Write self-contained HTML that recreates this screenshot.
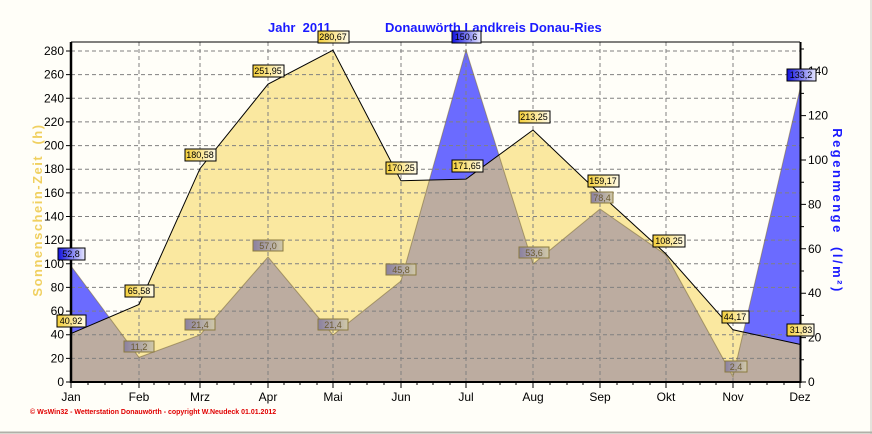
<!DOCTYPE html>
<html><head><meta charset="utf-8"><style>
html,body{margin:0;padding:0;background:#fffef8;}
svg{display:block;font-family:"Liberation Sans",sans-serif;}
</style></head><body>
<svg width="872" height="434" viewBox="0 0 872 434" xmlns="http://www.w3.org/2000/svg">
<defs>
<linearGradient id="gy" x1="0" x2="1"><stop offset="0" stop-color="#f4cf3a"/><stop offset="1" stop-color="#fffbe8"/></linearGradient>
<linearGradient id="gb" x1="0" x2="1"><stop offset="0" stop-color="#1010e0"/><stop offset="1" stop-color="#e8e8ff"/></linearGradient>
<linearGradient id="gg" x1="0" x2="1"><stop offset="0" stop-color="#8a80a0"/><stop offset="1" stop-color="#d0c8a8"/></linearGradient>
<clipPath id="sunclip"><polygon points="71,382 71,333.6 139,304.5 200,168.6 268,84.2 333,50.2 401,180.8 466,179.1 533,130 600,193.9 666,254 733,329.8 800,344.4 800,382"/></clipPath>
</defs>
<rect width="872" height="434" fill="#fffef8"/>
<line x1="871" y1="0" x2="871" y2="434" stroke="#c8c8c0"/>
<line x1="0" y1="432.5" x2="872" y2="432.5" stroke="#b0b0a8" stroke-width="2"/>
<polygon points="71,382 71,266 139,357.4 200,335 268,257 333,335 401,281 466,50 533,264 600,209 666,255 733,376.7 800,89 800,382" fill="#6b6bff"/>
<polygon points="71,382 71,333.6 139,304.5 200,168.6 268,84.2 333,50.2 401,180.8 466,179.1 533,130 600,193.9 666,254 733,329.8 800,344.4 800,382" fill="#fae8a0"/>
<polygon clip-path="url(#sunclip)" points="71,382 71,266 139,357.4 200,335 268,257 333,335 401,281 466,50 533,264 600,209 666,255 733,376.7 800,89 800,382" fill="#bcaca0"/>
<g stroke="#808080" stroke-dasharray="4,3" stroke-width="1">
<line x1="71" y1="358.4" x2="800" y2="358.4"/><line x1="71" y1="334.7" x2="800" y2="334.7"/><line x1="71" y1="311.1" x2="800" y2="311.1"/><line x1="71" y1="287.4" x2="800" y2="287.4"/><line x1="71" y1="263.8" x2="800" y2="263.8"/><line x1="71" y1="240.1" x2="800" y2="240.1"/><line x1="71" y1="216.5" x2="800" y2="216.5"/><line x1="71" y1="192.9" x2="800" y2="192.9"/><line x1="71" y1="169.2" x2="800" y2="169.2"/><line x1="71" y1="145.6" x2="800" y2="145.6"/><line x1="71" y1="121.9" x2="800" y2="121.9"/><line x1="71" y1="98.3" x2="800" y2="98.3"/><line x1="71" y1="74.6" x2="800" y2="74.6"/><line x1="71" y1="51" x2="800" y2="51"/>
<line x1="139" y1="42" x2="139" y2="382"/><line x1="200" y1="42" x2="200" y2="382"/><line x1="268" y1="42" x2="268" y2="382"/><line x1="333" y1="42" x2="333" y2="382"/><line x1="401" y1="42" x2="401" y2="382"/><line x1="466" y1="42" x2="466" y2="382"/><line x1="533" y1="42" x2="533" y2="382"/><line x1="600" y1="42" x2="600" y2="382"/><line x1="666" y1="42" x2="666" y2="382"/><line x1="733" y1="42" x2="733" y2="382"/>
</g>
<polyline points="71,266 139,357.4 200,335 268,257 333,335 401,281 466,50 533,264 600,209 666,255 733,376.7 800,89" fill="none" stroke="#807040" stroke-width="1" opacity="0.6"/>
<polyline points="71,333.6 139,304.5 200,168.6 268,84.2 333,50.2 401,180.8 466,179.1 533,130 600,193.9 666,254 733,329.8 800,344.4" fill="none" stroke="#000" stroke-width="1"/>
<line x1="71" y1="42" x2="800" y2="42" stroke="#000"/>
<line x1="71" y1="382" x2="800" y2="382" stroke="#000" stroke-width="2"/>
<line x1="71" y1="42" x2="71" y2="383" stroke="#000" stroke-width="2.5"/>
<line x1="800.5" y1="42" x2="800.5" y2="383" stroke="#000" stroke-width="2"/>
<g stroke="#000"><path d="M66 382H71M66 358.4H71M66 334.7H71M66 311.1H71M66 287.4H71M66 263.8H71M66 240.1H71M66 216.5H71M66 192.9H71M66 169.2H71M66 145.6H71M66 121.9H71M66 98.3H71M66 74.6H71M66 51H71"/>
<path d="M801 382H806M801 337.6H806M801 293.2H806M801 248.8H806M801 204.4H806M801 160H806M801 115.6H806M801 71.2H806"/>
<path d="M801 359.8H804M801 315.4H804M801 271H804M801 226.6H804M801 182.2H804M801 137.8H804M801 93.4H804M801 49H804"/>
<path d="M71 382V388M139 382V388M200 382V388M268 382V388M333 382V388M401 382V388M466 382V388M533 382V388M600 382V388M666 382V388M733 382V388M800 382V388"/>
<path d="M88 382V385M105 382V385M122 382V385M154 382V385M169 382V385M185 382V385M217 382V385M234 382V385M251 382V385M284 382V385M300 382V385M317 382V385M350 382V385M367 382V385M384 382V385M417 382V385M433 382V385M450 382V385M483 382V385M500 382V385M516 382V385M550 382V385M567 382V385M583 382V385M617 382V385M633 382V385M650 382V385M683 382V385M700 382V385M716 382V385M750 382V385M767 382V385M784 382V385"/></g>
<g font-size="12" fill="#000" text-anchor="end">
<text x="64" y="386">0</text><text x="64" y="362.4">20</text><text x="64" y="338.7">40</text><text x="64" y="315.1">60</text><text x="64" y="291.4">80</text><text x="64" y="267.8">100</text><text x="64" y="244.1">120</text><text x="64" y="220.5">140</text><text x="64" y="196.9">160</text><text x="64" y="173.2">180</text><text x="64" y="149.6">200</text><text x="64" y="125.9">220</text><text x="64" y="102.3">240</text><text x="64" y="78.6">260</text><text x="64" y="55">280</text>
</g>
<g font-size="12" fill="#000">
<text x="808" y="386">0</text><text x="808" y="341.6">20</text><text x="808" y="297.2">40</text><text x="808" y="252.8">60</text><text x="808" y="208.4">80</text><text x="808" y="164">100</text><text x="808" y="119.6">120</text><text x="808" y="75.2">140</text>
</g>
<g font-size="12" fill="#000" text-anchor="middle">
<text x="71" y="401">Jan</text><text x="139" y="401">Feb</text><text x="200" y="401">Mrz</text><text x="268" y="401">Apr</text><text x="333" y="401">Mai</text><text x="401" y="401">Jun</text><text x="466" y="401">Jul</text><text x="533" y="401">Aug</text><text x="600" y="401">Sep</text><text x="666" y="401">Okt</text><text x="733" y="401">Nov</text><text x="800" y="401">Dez</text>
</g>
<text x="268" y="32" font-size="13" font-weight="bold" fill="#1a1aff">Jahr&#160; 2011</text>
<text x="385" y="32" font-size="13" font-weight="bold" fill="#1a1aff">Donauwörth Landkreis Donau-Ries</text>
<text transform="translate(42,210) rotate(-90)" text-anchor="middle" font-size="13" font-weight="bold" fill="#f0d060" letter-spacing="1.5">Sonnenschein-Zeit&#160; (h)</text>
<text transform="translate(833,211) rotate(90)" text-anchor="middle" font-size="13" font-weight="bold" fill="#1a1aff" letter-spacing="2.5">Regenmenge&#160; (l/m²)</text>
<text x="30" y="414" font-size="7" font-weight="bold" fill="#e00000">© WsWin32  -  Wetterstation Donauwörth  -  copyright W.Neudeck  01.01.2012</text>
<g font-size="9" text-anchor="middle">
<g fill="#7a6a30" stroke="#8a7a40">
<rect x="124" y="341" width="30" height="11" fill="url(#gg)"/><rect x="185" y="319" width="30" height="11" fill="url(#gg)"/><rect x="253" y="240" width="30" height="11" fill="url(#gg)"/><rect x="318" y="319" width="30" height="11" fill="url(#gg)"/><rect x="386" y="264" width="30" height="11" fill="url(#gg)"/><rect x="519" y="247" width="30" height="11" fill="url(#gg)"/><rect x="591" y="192" width="22" height="11" fill="url(#gg)"/><rect x="725" y="361" width="22" height="11" fill="url(#gg)"/>
</g>
<g fill="#6a5a30"><text x="139" y="350">11,2</text><text x="200" y="328">21,4</text><text x="268" y="249">57,0</text><text x="333" y="328">21,4</text><text x="401" y="273">45,8</text><text x="534" y="256">53,6</text><text x="602" y="201">78,4</text><text x="736" y="370">2,4</text></g>
<g stroke="#000">
<rect x="58" y="248" width="27" height="12" fill="url(#gb)"/><rect x="452" y="31" width="29" height="12" fill="url(#gb)"/><rect x="787" y="69" width="29" height="12" fill="url(#gb)"/>
</g>
<g fill="#000"><text x="71" y="257">52,8</text><text x="466" y="40">150,6</text><text x="801" y="78">133,2</text></g>
<g stroke="#000">
<rect x="57" y="315" width="29" height="12" fill="url(#gy)"/><rect x="125" y="285" width="29" height="12" fill="url(#gy)"/><rect x="185" y="149" width="31" height="12" fill="url(#gy)"/><rect x="253" y="65" width="31" height="12" fill="url(#gy)"/><rect x="318" y="31" width="31" height="12" fill="url(#gy)"/><rect x="386" y="162" width="31" height="12" fill="url(#gy)"/><rect x="452" y="160" width="31" height="12" fill="url(#gy)"/><rect x="519" y="111" width="31" height="12" fill="url(#gy)"/><rect x="588" y="175" width="31" height="12" fill="url(#gy)"/><rect x="653" y="235" width="32" height="12" fill="url(#gy)"/><rect x="722" y="311" width="27" height="12" fill="url(#gy)"/><rect x="787" y="324" width="27" height="12" fill="url(#gy)"/>
</g>
<g fill="#000"><text x="71" y="324">40,92</text><text x="139" y="294">65,58</text><text x="200" y="158">180,58</text><text x="268" y="74">251,95</text><text x="333" y="40">280,67</text><text x="401" y="171">170,25</text><text x="467" y="169">171,65</text><text x="534" y="120">213,25</text><text x="603" y="184">159,17</text><text x="669" y="244">108,25</text><text x="735" y="320">44,17</text><text x="801" y="333">31,83</text></g>
</g>
</svg>
</body></html>
